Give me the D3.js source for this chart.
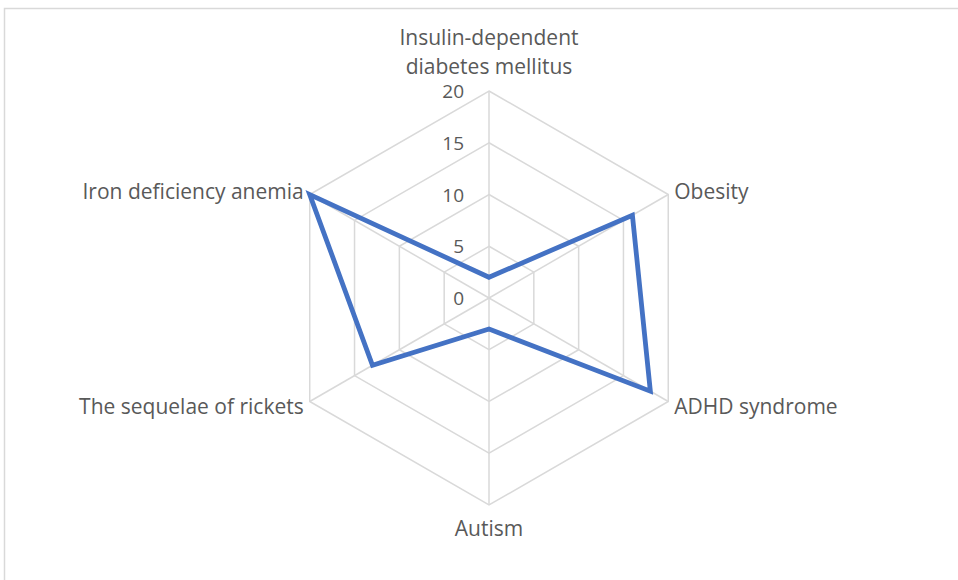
<!DOCTYPE html>
<html>
<head>
<meta charset="utf-8">
<script src="https://cdn.jsdelivr.net/npm/d3@7"></script>
<style>
  html, body { margin: 0; padding: 0; background: #fff; }
  svg { display: block; }
  text { font-family: "Open Sans", "Liberation Sans", sans-serif; fill: #595959; }
</style>
</head>
<body>
<svg id="chart" width="958" height="580"></svg>
<script>
// Categories around the radar, clockwise from the top
const categories = [
  ["Insulin-dependent", "diabetes mellitus"],
  ["Obesity"],
  ["ADHD syndrome"],
  ["Autism"],
  ["The sequelae of rickets"],
  ["Iron deficiency anemia"]
];
// One series of values, one per category
const seriesValues = [2, 16, 18, 3, 13, 20];
// Radial axis tick labels
const tickValues = [0, 5, 10, 15, 20];

const svg = d3.select("#chart");
const cx = 489, cy = 298, R = 207;

// Chart area frame
svg.append("rect")
  .attr("x", 4.5).attr("y", 8.5)
  .attr("width", 960).attr("height", 580)
  .attr("fill", "#fff")
  .attr("stroke", "#d9d9d9").attr("stroke-width", 1.5);

const r = d3.scaleLinear().domain([0, 20]).range([0, R]);
const angle = d3.scaleLinear().domain([0, categories.length]).range([0, 2 * Math.PI]);
const pt = (i, v) => [cx + r(v) * Math.sin(angle(i)), cy - r(v) * Math.cos(angle(i))];

const g = svg.append("g");

// Hexagonal gridlines
const ring = d3.line().curve(d3.curveLinearClosed);
tickValues.filter(t => t > 0).forEach(t => {
  g.append("path")
    .attr("d", ring(categories.map((c, i) => pt(i, t))))
    .attr("fill", "none").attr("stroke", "#d9d9d9").attr("stroke-width", 1.5);
});

// Spokes
categories.forEach((c, i) => {
  const [x, y] = pt(i, 20);
  g.append("line").attr("x1", cx).attr("y1", cy).attr("x2", x).attr("y2", y)
    .attr("stroke", "#d9d9d9").attr("stroke-width", 1.5);
});

// Tick labels along the top spoke
tickValues.forEach(t => {
  g.append("text")
    .attr("x", cx - 25).attr("y", cy - r(t))
    .attr("text-anchor", "end").attr("dominant-baseline", "central")
    .attr("font-size", 19).text(t);
});

// Data polygon
g.append("path")
  .attr("d", ring(seriesValues.map((v, i) => pt(i, v))))
  .attr("fill", "none").attr("stroke", "#4472C4").attr("stroke-width", 4.8)
  .attr("stroke-linejoin", "miter");

// Category labels
const labelPos = [
  { dx: 0, dy: -25, anchor: "middle" },
  { dx: 6, dy: -4, anchor: "start" },
  { dx: 6, dy: 4, anchor: "start" },
  { dx: 0, dy: 23, anchor: "middle" },
  { dx: -6, dy: 4, anchor: "end" },
  { dx: -6, dy: -4, anchor: "end" }
];
categories.forEach((lines, i) => {
  const [x, y] = pt(i, 20);
  const p = labelPos[i];
  const t = g.append("text")
    .attr("text-anchor", p.anchor)
    .attr("font-size", 21);
  const lh = 29;
  lines.forEach((s, k) => {
    t.append("tspan")
      .attr("x", x + p.dx)
      .attr("y", y + p.dy + (k - (lines.length - 1)) * lh)
      .attr("dominant-baseline", "central")
      .text(s);
  });
});
</script>
</body>
</html>
